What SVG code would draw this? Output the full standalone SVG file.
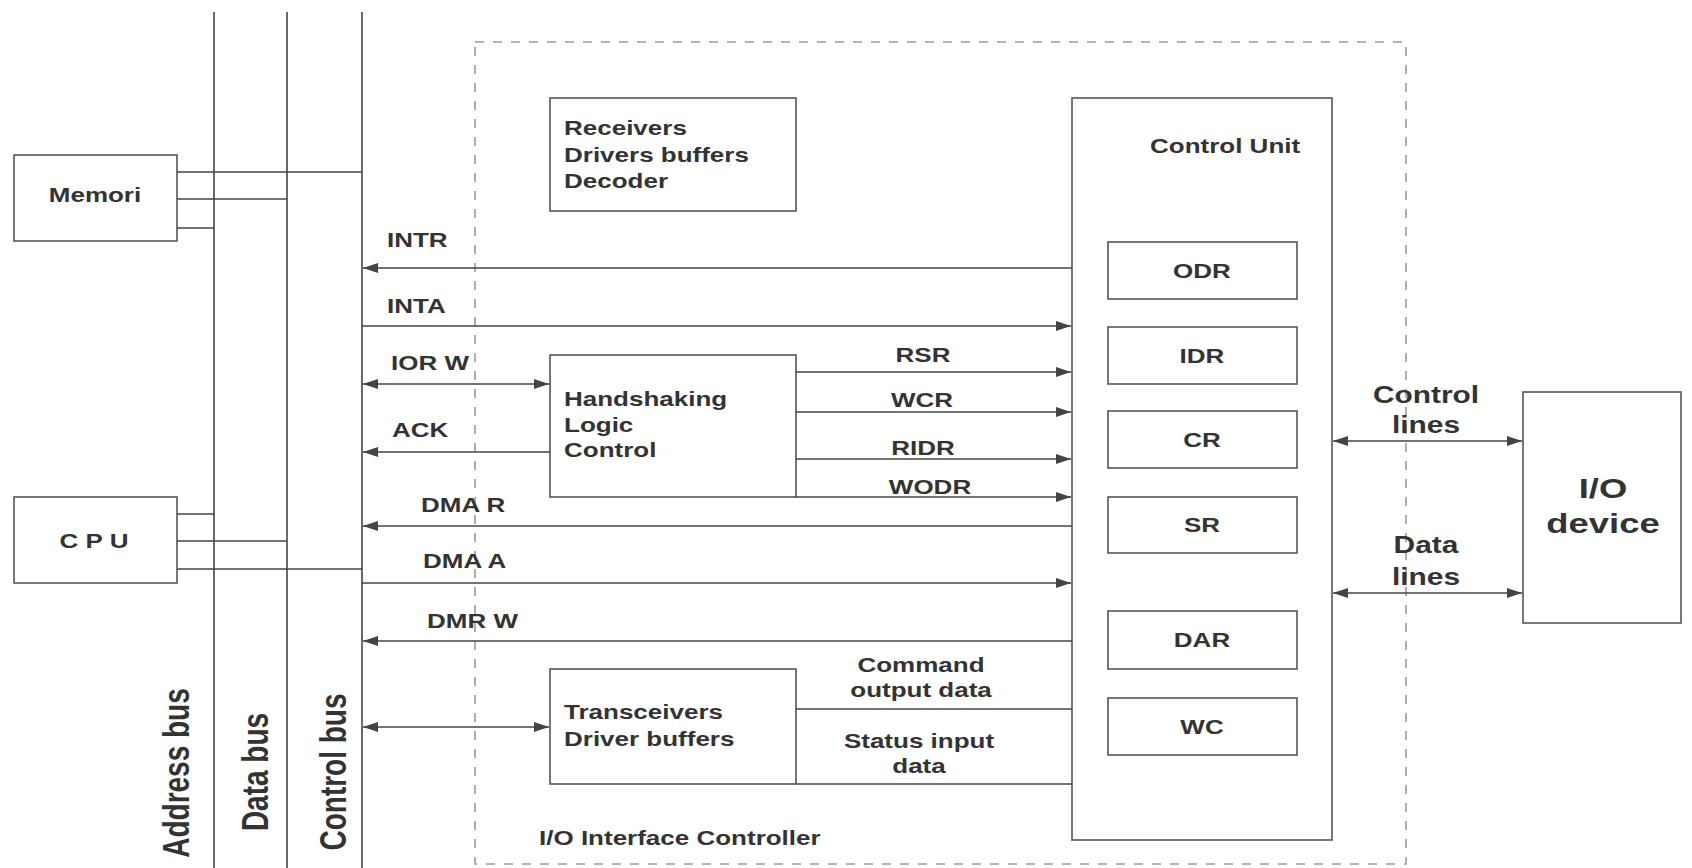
<svg xmlns="http://www.w3.org/2000/svg" width="1692" height="868" viewBox="0 0 1692 868">
<style>
  .bg { fill: #ffffff; }
  .box { fill: none; stroke: #555; stroke-width: 1.6; }
  .ln { fill: none; stroke: #444; stroke-width: 1.6; }
  .bus { fill: none; stroke: #444; stroke-width: 1.6; }
  .dash { fill: none; stroke: #9a9a9a; stroke-width: 1.6; stroke-dasharray: 9 9; }
  .arr { marker-end: url(#ah); }
  .dbl { marker-start: url(#ah); marker-end: url(#ah); }
  text { font-family: "Liberation Sans", Arial, sans-serif; font-weight: bold; font-size: 20px; fill: #333; }
  .mid { text-anchor: middle; }
  .big { font-size: 23px; }
  .dev { font-size: 28px; }
  .busl { font-size: 28px; text-anchor: middle; fill: #333; }
</style>
<defs>
  <marker id="ah" viewBox="0 0 15 10" refX="15" refY="5" markerWidth="15" markerHeight="10" markerUnits="userSpaceOnUse" orient="auto-start-reverse">
    <path d="M0,0 L15,5 L0,10 z" fill="#444"/>
  </marker>
</defs>
<rect class="bg" x="0" y="0" width="1692" height="868"/>

<!-- buses -->
<g id="buses">
  <line class="bus" x1="214" y1="12" x2="214" y2="868"/>
  <line class="bus" x1="287" y1="12" x2="287" y2="868"/>
  <line class="bus" x1="362" y1="12" x2="362" y2="868"/>
  <text class="busl" transform="translate(189,773) scale(1.3,1) rotate(-90)">Address bus</text>
  <text class="busl" transform="translate(268,772) scale(1.3,1) rotate(-90)">Data bus</text>
  <text class="busl" transform="translate(346,772) scale(1.3,1) rotate(-90)">Control bus</text>
</g>

<!-- I/O interface controller boundary -->
<g id="interface">
  <rect class="dash" x="475" y="42" width="931" height="822"/>
  <text transform="translate(539,845) scale(1.3,1)">I/O Interface Controller</text>
</g>

<g id="memori">
  <rect class="box" x="14" y="155" width="163" height="86"/>
  <text class="mid" transform="translate(95,202) scale(1.3,1)">Memori</text>
</g>

<g id="cpu">
  <rect class="box" x="14" y="497" width="163" height="86"/>
  <text class="mid" transform="translate(94,548) scale(1.3,1)">C P U</text>
</g>

<g id="receivers">
  <rect class="box" x="550" y="98" width="246" height="113"/>
  <text transform="translate(564,135) scale(1.3,1)">Receivers</text>
  <text transform="translate(564,162) scale(1.3,1)">Drivers buffers</text>
  <text transform="translate(564,188) scale(1.3,1)">Decoder</text>
</g>

<g id="handshaking">
  <rect class="box" x="550" y="355" width="246" height="142"/>
  <text transform="translate(564,406) scale(1.3,1)">Handshaking</text>
  <text transform="translate(564,432) scale(1.3,1)">Logic</text>
  <text transform="translate(564,457) scale(1.3,1)">Control</text>
</g>

<g id="transceivers">
  <rect class="box" x="550" y="669" width="246" height="115"/>
  <text transform="translate(564,719) scale(1.3,1)">Transceivers</text>
  <text transform="translate(564,746) scale(1.3,1)">Driver buffers</text>
</g>

<g id="control-unit">
  <rect class="box" x="1072" y="98" width="260" height="742"/>
  <text transform="translate(1150,153) scale(1.3,1)">Control Unit</text>
</g>

<g id="odr">
  <rect class="box" x="1108" y="242" width="189" height="57"/>
  <text class="mid" transform="translate(1202,278) scale(1.3,1)">ODR</text>
</g>
<g id="idr">
  <rect class="box" x="1108" y="327" width="189" height="57"/>
  <text class="mid" transform="translate(1202,363) scale(1.3,1)">IDR</text>
</g>
<g id="cr">
  <rect class="box" x="1108" y="411" width="189" height="57"/>
  <text class="mid" transform="translate(1202,447) scale(1.3,1)">CR</text>
</g>
<g id="sr">
  <rect class="box" x="1108" y="497" width="189" height="56"/>
  <text class="mid" transform="translate(1202,532) scale(1.3,1)">SR</text>
</g>
<g id="dar">
  <rect class="box" x="1108" y="611" width="189" height="58"/>
  <text class="mid" transform="translate(1202,647) scale(1.3,1)">DAR</text>
</g>
<g id="wc">
  <rect class="box" x="1108" y="698" width="189" height="57"/>
  <text class="mid" transform="translate(1202,734) scale(1.3,1)">WC</text>
</g>

<g id="io-device">
  <rect class="box" x="1523" y="392" width="158" height="231"/>
  <text class="mid dev" transform="translate(1603,498) scale(1.3,1)">I/O</text>
  <text class="mid dev" transform="translate(1603,533) scale(1.3,1)">device</text>
</g>

<!-- connectors -->
<g id="connectors">
  <!-- memory to buses -->
  <line class="ln" x1="177" y1="172" x2="362" y2="172"/>
  <line class="ln" x1="177" y1="199" x2="287" y2="199"/>
  <line class="ln" x1="177" y1="228" x2="214" y2="228"/>
  <!-- cpu to buses -->
  <line class="ln" x1="177" y1="514" x2="214" y2="514"/>
  <line class="ln" x1="177" y1="541" x2="287" y2="541"/>
  <line class="ln" x1="177" y1="569" x2="362" y2="569"/>

  <line class="ln arr" x1="1072" y1="268" x2="363" y2="268"/>
  <line class="ln arr" x1="362" y1="326" x2="1071" y2="326"/>
  <line class="ln dbl" x1="363" y1="384" x2="549" y2="384"/>
  <line class="ln arr" x1="550" y1="452" x2="363" y2="452"/>
  <line class="ln arr" x1="1072" y1="526" x2="363" y2="526"/>
  <line class="ln arr" x1="362" y1="583" x2="1071" y2="583"/>
  <line class="ln arr" x1="1072" y1="641" x2="363" y2="641"/>
  <line class="ln dbl" x1="363" y1="727" x2="549" y2="727"/>

  <line class="ln arr" x1="796" y1="372" x2="1071" y2="372"/>
  <line class="ln arr" x1="796" y1="412" x2="1071" y2="412"/>
  <line class="ln arr" x1="796" y1="459" x2="1071" y2="459"/>
  <line class="ln arr" x1="796" y1="497" x2="1071" y2="497"/>

  <line class="ln" x1="796" y1="709" x2="1072" y2="709"/>
  <line class="ln" x1="796" y1="784" x2="1072" y2="784"/>

  <line class="ln dbl" x1="1333" y1="441" x2="1522" y2="441"/>
  <line class="ln dbl" x1="1333" y1="593" x2="1522" y2="593"/>

  <text transform="translate(387,247) scale(1.3,1)">INTR</text>
  <text transform="translate(387,313) scale(1.3,1)">INTA</text>
  <text transform="translate(391,370) scale(1.3,1)">IOR W</text>
  <text transform="translate(392,437) scale(1.3,1)">ACK</text>
  <text transform="translate(421,512) scale(1.3,1)">DMA R</text>
  <text transform="translate(423,568) scale(1.3,1)">DMA A</text>
  <text transform="translate(427,628) scale(1.3,1)">DMR W</text>

  <text class="mid" transform="translate(923,362) scale(1.3,1)">RSR</text>
  <text class="mid" transform="translate(922,407) scale(1.3,1)">WCR</text>
  <text class="mid" transform="translate(923,455) scale(1.3,1)">RIDR</text>
  <text class="mid" transform="translate(930,494) scale(1.3,1)">WODR</text>

  <text class="mid" transform="translate(921,672) scale(1.3,1)">Command</text>
  <text class="mid" transform="translate(921,697) scale(1.3,1)">output data</text>
  <text class="mid" transform="translate(919,748) scale(1.3,1)">Status input</text>
  <text class="mid" transform="translate(919,773) scale(1.3,1)">data</text>

  <text class="mid big" transform="translate(1426,403) scale(1.3,1)">Control</text>
  <text class="mid big" transform="translate(1426,433) scale(1.3,1)">lines</text>
  <text class="mid big" transform="translate(1426,553) scale(1.3,1)">Data</text>
  <text class="mid big" transform="translate(1426,585) scale(1.3,1)">lines</text>
</g>
</svg>
